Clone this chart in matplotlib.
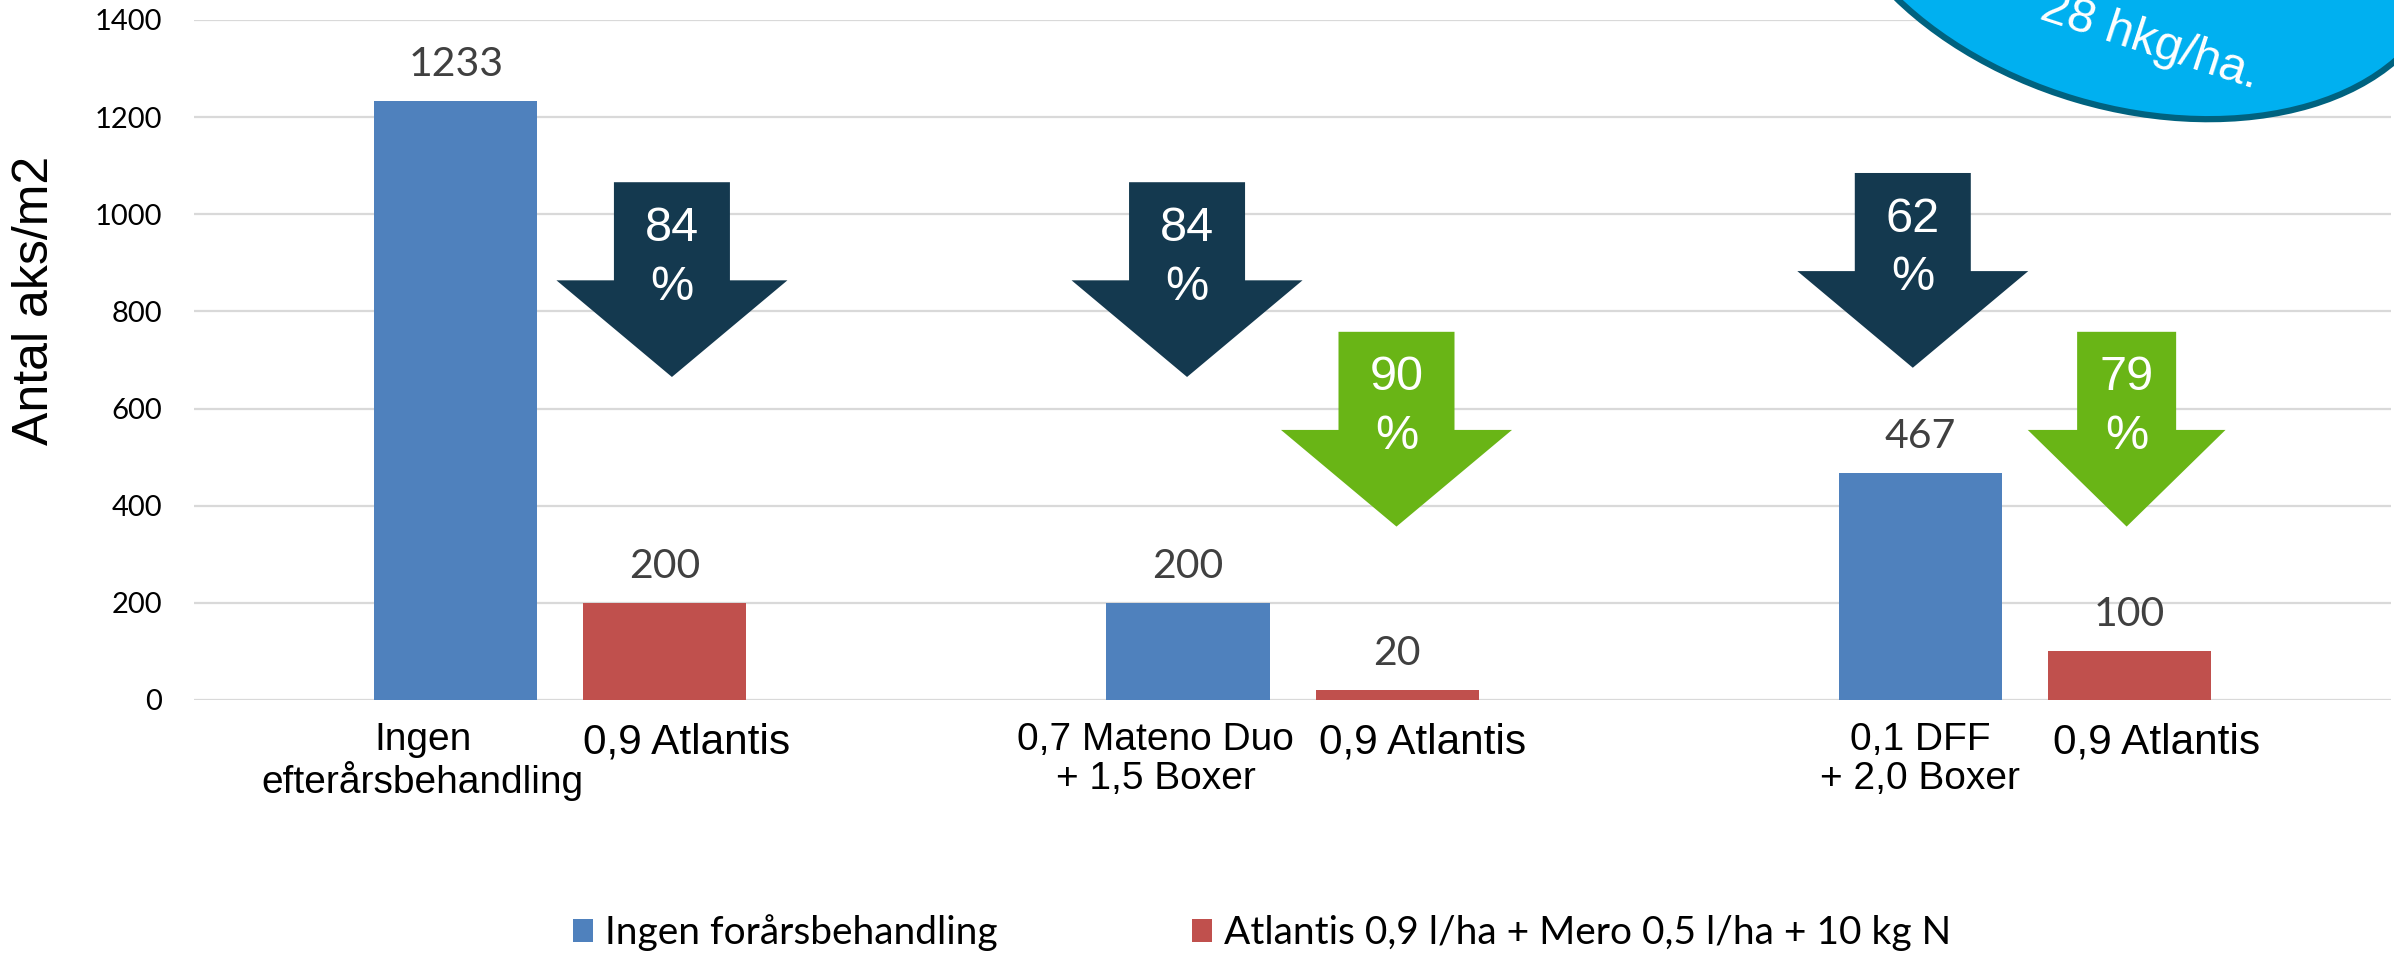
import numpy as np
import matplotlib
matplotlib.use('Agg')
import matplotlib.pyplot as plt
from matplotlib.patches import Ellipse, Polygon, Patch
from matplotlib.transforms import IdentityTransform

# data
groups = ['Ingen\nefterårsbehandling', '0,7 Mateno Duo\n+ 1,5 Boxer', '0,1 DFF\n+ 2,0 Boxer']
red_label = '0,9 Atlantis'
series_names = ['Ingen forårsbehandling', 'Atlantis 0,9 l/ha + Mero 0,5 l/ha + 10 kg N']
ingen = [1233, 200, 467]
atlantis = [200, 20, 100]
reduction = ['84', '84', '90', '62', '79']
y_ticks = [0, 200, 400, 600, 800, 1000, 1200, 1400]

blue = '#4F81BD'
red = '#C0504D'
dark = '#14394F'
green = '#69B516'

calib = ['Lato', 'DejaVu Sans']
arial = ['Liberation Sans', 'DejaVu Sans']

fig = plt.figure(figsize=(23.94, 9.56), dpi=100)
ax = fig.add_axes([0.08104, 0.2678, 0.91771, 0.7113])

x = np.arange(len(groups))
off = 0.1427
w = 0.2226
ax.bar(x - off, ingen, w, color=blue, zorder=2)
ax.bar(x + off, atlantis, w, color=red, zorder=2)

for xi, v in zip(x - off, ingen):
    ax.annotate(str(v), (xi, v), xytext=(0, 18), textcoords='offset points',
                ha='center', va='baseline', fontsize=29.5, color='#404040', family=calib)
for xi, v in zip(x + off, atlantis):
    ax.annotate(str(v), (xi, v), xytext=(0, 18), textcoords='offset points',
                ha='center', va='baseline', fontsize=29.5, color='#404040', family=calib)

ax.set_xlim(-0.5, 2.5)
ax.set_ylim(0, 1400)
ax.set_yticks(y_ticks)
ax.set_yticklabels([str(t) for t in y_ticks], fontsize=21, family=calib)
ax.grid(axis='y', color='#D9D9D9', linewidth=1.6, zorder=0)
ax.set_axisbelow(True)
for s in ax.spines.values():
    s.set_visible(False)
ax.tick_params(axis='y', length=0, pad=23)
ax.tick_params(axis='x', length=0, pad=16)

# category texts sit a little apart from the bar centres
grp_shift = [-0.045, -0.044, 0.0]
red_shift = [0.03, 0.035, 0.037]
pos = []
labs = []
for i, g in enumerate(groups):
    pos += [i - off + grp_shift[i], i + off + red_shift[i]]
    labs += [g, red_label]
ax.set_xticks(pos)
ax.set_xticklabels(labs, family=arial, linespacing=1.1)
for k, t in enumerate(ax.get_xticklabels()):
    t.set_fontsize(28 if k % 2 == 0 else 30.5)

# arrows (center x, top, color, box half width, head half width)
arrows = [
    (0.1526, 1066, dark, 0.0792, 0.1577),
    (0.856, 1066, dark, 0.0792, 0.1577),
    (1.142, 758, green, 0.0792, 0.1577),
    (1.847, 1085, dark, 0.0792, 0.1577),
    (2.139, 758, green, 0.0676, 0.135),
]
for (cx, top, col, bw, hw), pct in zip(arrows, reduction):
    sh = top - 202
    tip = top - 401
    poly = Polygon([(cx - bw, top), (cx + bw, top), (cx + bw, sh), (cx + hw, sh),
                    (cx, tip), (cx - hw, sh), (cx - bw, sh)],
                   closed=True, facecolor=col, edgecolor='none', zorder=3)
    ax.add_patch(poly)
    ax.text(cx, top - 95, pct, ha='center', va='center', color='white',
            fontsize=35, family=arial, zorder=4)
    ax.text(cx, top - 216, '%', ha='center', va='center', color='white',
            fontsize=35, family=arial, zorder=4)

fig.text(35 / 2394, 1 - 300 / 956, 'Antal aks/m2', rotation=90, ha='center', va='center',
         fontsize=36, family=arial)

# callout bubble in the top right corner
ell = Ellipse((2135, 956 + 100), 640, 416, angle=-16.5, facecolor='#00B0F0',
              edgecolor='#00627F', linewidth=4.5, transform=IdentityTransform(), zorder=10)
fig.add_artist(ell)
fig.text(2150 / 2394, 1 - 42 / 956, '28 hkg/ha.', rotation=-18, rotation_mode='anchor',
         ha='center', va='center', color='white', fontsize=35, family=arial, zorder=11)

handles = [Patch(facecolor=blue), Patch(facecolor=red)]
fig.legend(handles, series_names, loc='center', bbox_to_anchor=(1262 / 2394, 0.024),
           ncol=2, frameon=False, prop={'family': calib, 'size': 28},
           handlelength=0.52, handleheight=0.52, handletextpad=0.31, columnspacing=5.0)

fig.savefig('out.png', dpi=100)
